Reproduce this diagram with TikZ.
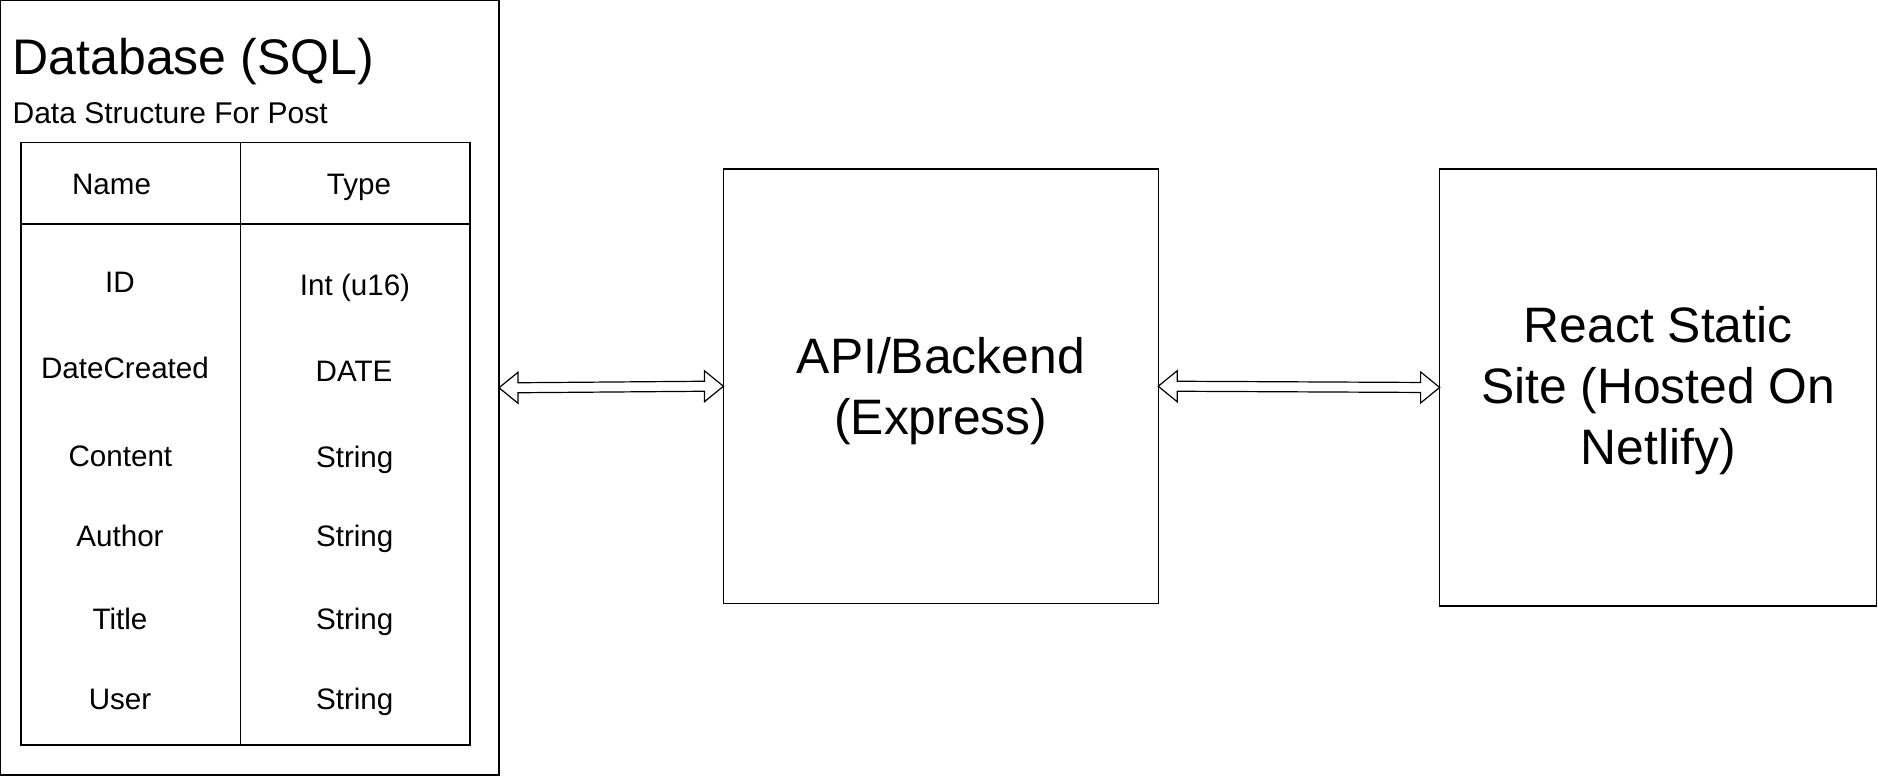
\documentclass[tikz,border=0pt]{standalone}
\usepackage{fontspec}
\setmainfont{Liberation Sans}
\usetikzlibrary{calc}

\begin{document}
\begin{tikzpicture}[x=0.5pt, y=-0.5pt, line width=0.6pt,
    component/.style ={rectangle, draw, inner sep=0pt, outer sep=0pt},
    boxtext/.style ={align=center, inner sep=0pt, font=\fontsize{24.9}{30.5}\selectfont},
    cell/.style ={anchor=base, inner sep=0pt, font=\fontsize{14.8}{17.8}\selectfont}]
   \useasboundingbox (0,0) rectangle (1878,776);
   \node[component, minimum width=249.25pt, minimum height=387.25pt] (DB)  at (249.75,387.75)  {};
   \node[component, minimum width=217.4pt, minimum height=217.35pt,
      label={[boxtext, yshift=-2.5pt]center:{API/Backend\\(Express)}}] (API)  at (940.8,386.25)  {};
   \node[component, minimum width=218.6pt, minimum height=218.55pt,
      label={[boxtext, yshift=-1.8pt]center:{React Static\\Site (Hosted On\\Netlify)}}] (Site)  at (1658.2,387.45)  {};

   \node[anchor=base west, inner sep=0pt, font=\fontsize{25}{30}\selectfont] (Title)  at (12,74.5)  {Database (SQL)};
   \node[anchor=base west, inner sep=0pt, font=\fontsize{15}{18}\selectfont] (Sub)  at (12,123)  {Data Structure For Post};

   % table of the post fields
   \node[component, minimum width=224.5pt, minimum height=301.25pt] (Table)  at (245.5,443.75)  {};
   \draw (Table.north -| 240.3,0) to  (Table.south -| 240.3,0);
   \draw (Table.west |- 0,224) to  (Table.east |- 0,224);

   \node[cell] (N0)  at (111.5,194)  {Name};
   \node[cell] (T0)  at (359,194)  {Type};
   \node[cell] (N1)  at (120,292.5)  {ID};
   \node[cell] (T1)  at (355,295)  {Int (u16)};
   \node[cell] (N2)  at (125,378.5)  {DateCreated};
   \node[cell] (T2)  at (354,381)  {DATE};
   \node[cell] (N3)  at (120.4,466)  {Content};
   \node[cell] (T3)  at (354.7,467)  {String};
   \node[cell] (N4)  at (120,546)  {Author};
   \node[cell] (T4)  at (354.7,546)  {String};
   \node[cell] (N5)  at (120,629)  {Title};
   \node[cell] (T5)  at (354.7,629)  {String};
   \node[cell] (N6)  at (120,709)  {User};
   \node[cell] (T6)  at (354.7,709)  {String};

   % hollow double arrows
   \draw (DB.east) -- ++(19,-15.5) -- ++(0,10.5) -- ($(API.west)+(-19,-5)$) -- ++(0,-10.5) -- (API.west)
      -- ++(-19,15.5) -- ++(0,-10.5) -- ($(DB.east)+(19,5)$) -- ++(0,10.5) -- cycle;
   \draw (API.east) -- ++(19,-15.5) -- ++(0,10.5) -- ($(Site.west)+(-19,-5)$) -- ++(0,-10.5) -- (Site.west)
      -- ++(-19,15.5) -- ++(0,-10.5) -- ($(API.east)+(19,5)$) -- ++(0,10.5) -- cycle;
 \end{tikzpicture}
\end{document}
